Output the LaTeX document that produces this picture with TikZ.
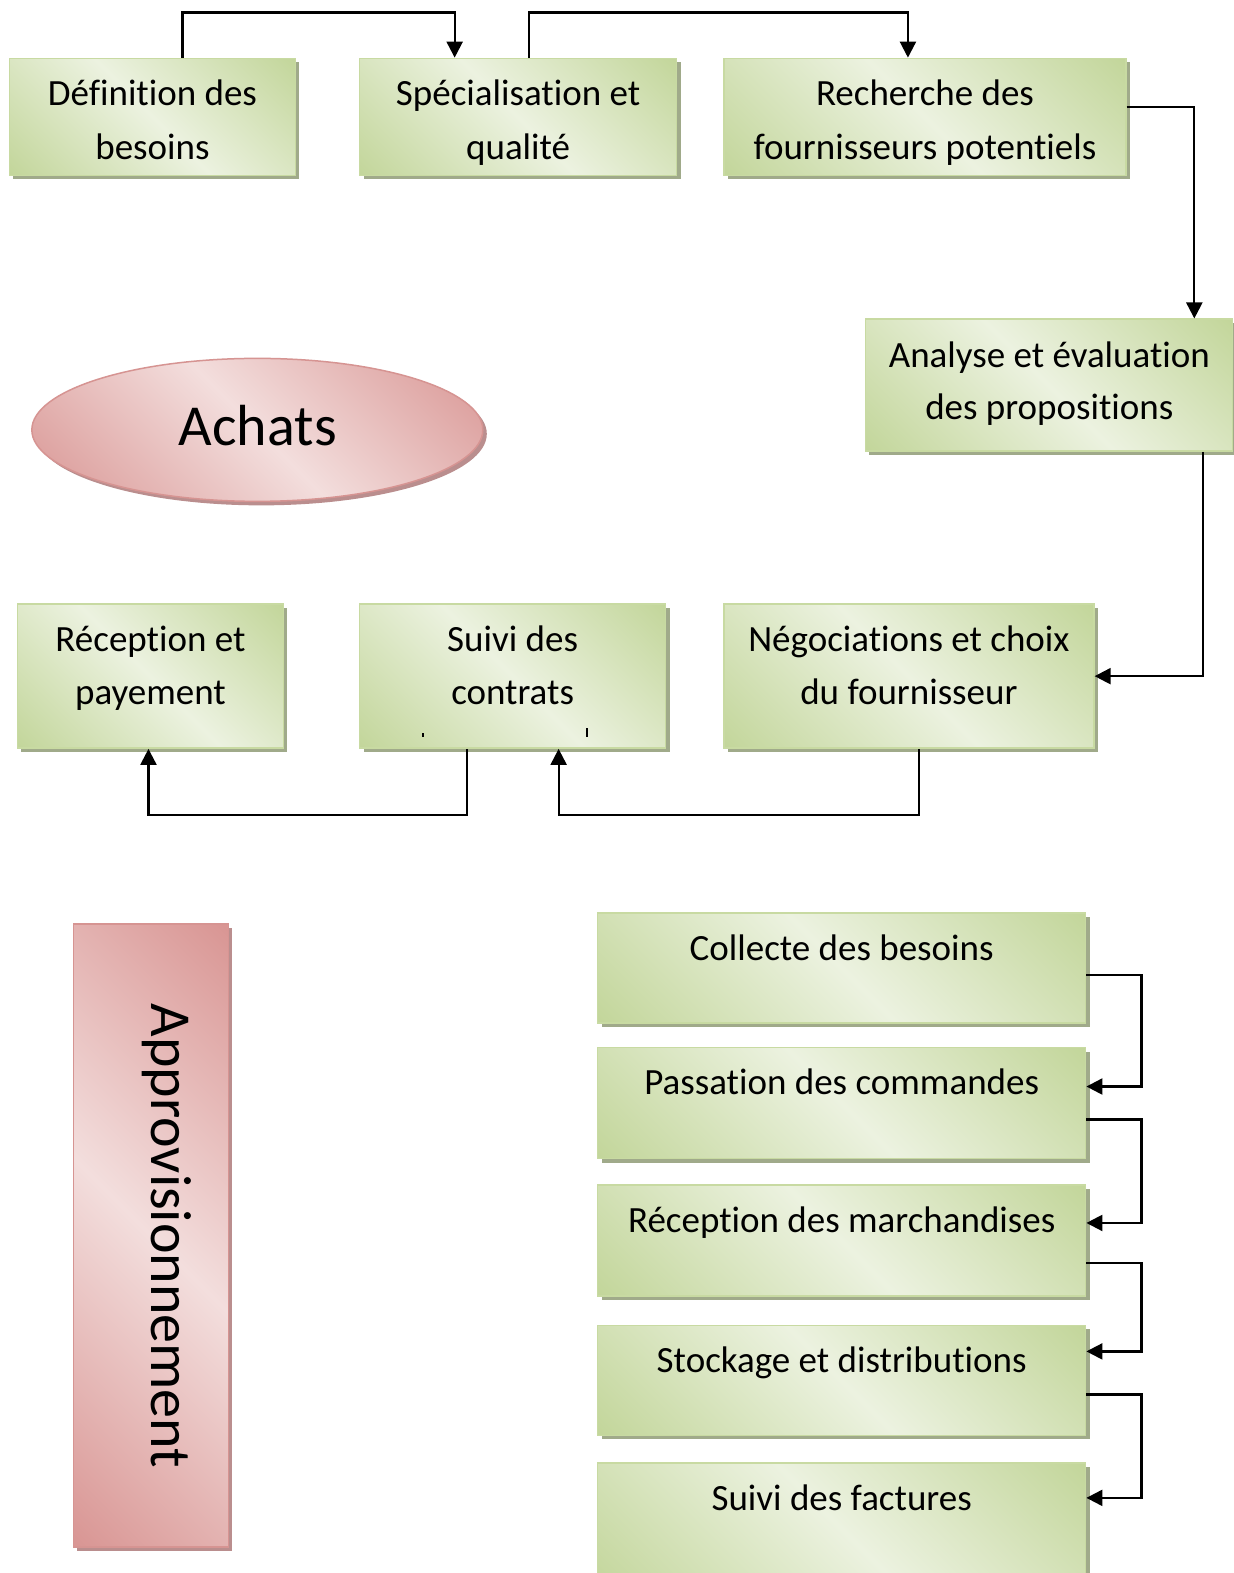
\documentclass[tikz,border=0pt]{standalone}
\usepackage{fontspec}
\setmainfont{Carlito}[Ligatures=NoCommon]
\usetikzlibrary{arrows.meta,shapes.geometric,shadows}

\definecolor{glight}{RGB}{236,242,224}
\definecolor{gdark}{RGB}{195,214,155}
\definecolor{gborder}{RGB}{200,218,162}
\definecolor{gshadow}{RGB}{160,170,138}
\definecolor{rlight}{RGB}{243,222,221}
\definecolor{rdark}{RGB}{217,150,148}
\definecolor{rborder}{RGB}{214,148,146}
\definecolor{rshadow}{RGB}{186,142,142}

% diagonal fills: dark corners (top right, bottom left), light band through the middle
\pgfdeclarehorizontalshading{greendiag}{100bp}{color(0bp)=(gdark); color(15bp)=(gdark); color(50bp)=(glight); color(85bp)=(gdark); color(100bp)=(gdark)}
\pgfdeclarehorizontalshading{reddiag}{100bp}{color(0bp)=(rdark); color(15bp)=(rdark); color(50bp)=(rlight); color(85bp)=(rdark); color(100bp)=(rdark)}

\tikzset{
  gbox/.style={draw=gborder, line width=0.75pt, shading=greendiag, shading angle=45,
    inner sep=0pt, drop shadow={shadow xshift=2pt, shadow yshift=-2pt, fill=gshadow, opacity=1}},
  rshape/.style={draw=rborder, line width=0.75pt, shading=reddiag, shading angle=45,
    inner sep=0pt, drop shadow={shadow xshift=2pt, shadow yshift=-2pt, fill=rshadow, opacity=1}},
  txt/.style={font=\fontsize{18.5}{26.5}\selectfont, anchor=base, inner sep=0pt},
  bigtxt/.style={font=\fontsize{29}{35}\selectfont, inner sep=0pt},
  arr/.style={line width=1.1pt, -{Triangle[length=8pt,width=8pt]}},
}

\begin{document}
\begin{tikzpicture}[x=0.50163pt,y=-0.50163pt]
\useasboundingbox[fill=white] (0,0) rectangle (1230,1568);

% ---- Achats: process boxes
\node[gbox, minimum width=143pt,   minimum height=58.5pt] (b1) at (152,116.5) {};
\node[gbox, minimum width=158.5pt, minimum height=58.5pt] (b2) at (516.5,116.5) {};
\node[gbox, minimum width=201pt,   minimum height=58.5pt] (b3) at (922,116.5) {};
\node[gbox, minimum width=183.5pt, minimum height=66pt]   (b4) at (1045.5,384) {};
\node[gbox, minimum width=133pt,   minimum height=72pt]   (b5) at (150,674) {};
\node[gbox, minimum width=153pt,   minimum height=72pt]   (b6) at (511,674) {};
\node[gbox, minimum width=185pt,   minimum height=72pt]   (b7) at (906,674) {};

\node[txt] (t1a) at (152,105.5) {Définition des};
\node[txt] (t1b) at (152,158.5) {besoins};
\node[txt] (t2a) at (516.5,105.5) {Spécialisation et};
\node[txt] (t2b) at (516.5,158.5) {qualité};
\node[txt] (t3a) at (922,105.5) {Recherche des};
\node[txt] (t3b) at (922,158.5) {fournisseurs potentiels};
\node[txt] (t4a) at (1046,366.5) {Analyse et évaluation};
\node[txt] (t4b) at (1046,418.5) {des propositions};
\node[txt] (t5a) at (150,649.5) {Réception et};
\node[txt] (t5b) at (150,702.5) {payement};
\node[txt] (t6a) at (511,649.5) {Suivi des};
\node[txt] (t6b) at (511,702.5) {contrats};
\node[txt] (t7a) at (906,649.5) {Négociations et choix};
\node[txt] (t7b) at (906,702.5) {du fournisseur};

% two tiny marks under "contrats"
\fill (421,731) rectangle (423,735);
\fill (584,726) rectangle (586,735);

% ---- Achats ellipse
\node[rshape, ellipse, minimum width=225.5pt, minimum height=71.5pt] (ach) at (256.5,428.5) {};
\node[bigtxt] (tach) at (257,424) {Achats};

% ---- Approvisionnement bar
\node[rshape, minimum width=77.5pt, minimum height=311.5pt] (app) at (150.5,1231.5) {};
\node[bigtxt, rotate=-90] (tapp) at (166,1232) {Approvisionnement};

% ---- Approvisionnement: process boxes
\node[gbox, minimum width=244pt, minimum height=55pt]   (c1) at (839,965) {};
\node[gbox, minimum width=244pt, minimum height=55.5pt] (c2) at (839,1099.5) {};
\node[gbox, minimum width=244pt, minimum height=55.5pt] (c3) at (839,1236.5) {};
\node[gbox, minimum width=244pt, minimum height=55pt]   (c4) at (839,1376) {};
\node[gbox, minimum width=244pt, minimum height=66pt]   (c5) at (839,1524) {};

\node[txt] (u1) at (839,957.5) {Collecte des besoins};
\node[txt] (u2) at (839,1091.5) {Passation des commandes};
\node[txt] (u3) at (839,1228.5) {Réception des marchandises};
\node[txt] (u4) at (839,1368.5) {Stockage et distributions};
\node[txt] (u5) at (839,1505.5) {Suivi des factures};

% ---- connectors of the Achats cycle
\draw[arr] ([xshift=15pt]b1.north) -- ++(0,-45) -| ([xshift=-31.75pt]b2.north);
\draw[arr] ([xshift=5.25pt]b2.north) -- ++(0,-45) -| ([xshift=-8.5pt]b3.north);
\draw[arr] ([yshift=4.75pt]b3.east) -| ([xshift=72.75pt]b4.north);
\draw[arr] ([xshift=77.25pt]b4.south) |- (b7.east);
\draw[arr] ([xshift=5pt]b7.south) -- ++(0,66) -| ([xshift=23pt]b6.south);
\draw[arr] ([xshift=-23pt]b6.south) -- ++(0,66) -| ([xshift=-1pt]b5.south);

% ---- connectors of the Approvisionnement chain
\draw[arr] ([yshift=-3.5pt]c1.east) -- ++(55,0) |- ([yshift=8.25pt]c2.east);
\draw[arr] ([yshift=-8.25pt]c2.east) -- ++(55,0) |- ([yshift=8.75pt]c3.east);
\draw[arr] ([yshift=-11.25pt]c3.east) -- ++(55,0) |- ([yshift=14.5pt]c4.east);
\draw[arr] ([yshift=-7pt]c4.east) -- ++(55,0) |- ([yshift=15.5pt]c5.east);
\end{tikzpicture}
\end{document}
